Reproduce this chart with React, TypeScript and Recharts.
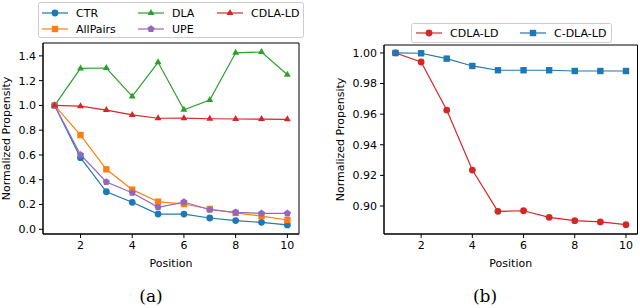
import { Line, LineChart, ReferenceArea, XAxis, YAxis } from "recharts"

const positions = [1, 2, 3, 4, 5, 6, 7, 8, 9, 10]
const ctr = [1.0, 0.578, 0.303, 0.218, 0.123, 0.123, 0.091, 0.07, 0.056, 0.035]
const allPairs = [1.0, 0.761, 0.484, 0.32, 0.223, 0.204, 0.164, 0.132, 0.107, 0.075]
const dla = [1.0, 1.299, 1.302, 1.073, 1.348, 0.965, 1.044, 1.425, 1.431, 1.248]
const upe = [1.0, 0.602, 0.382, 0.295, 0.178, 0.22, 0.158, 0.137, 0.129, 0.129]
const cdlaLd = [1.0, 0.9941, 0.9627, 0.9235, 0.8965, 0.8969, 0.8926, 0.8904, 0.8896, 0.8878]
const cDlaLd = [1.0, 0.9998, 0.9963, 0.9915, 0.9887, 0.9887, 0.9887, 0.9882, 0.9882, 0.9882]

const xTicks = [2, 4, 6, 8, 10]
const leftTicks = [0, 0.2, 0.4, 0.6, 0.8, 1.0, 1.2, 1.4]
const rightTicks = [0.9, 0.92, 0.94, 0.96, 0.98, 1.0]

const xDomain = [0.55, 10.45]
const leftDomain = [-0.038, 1.504]
const rightDomain = [0.8817, 1.0052]

const leftData = positions.map((p, i) => ({ p, ctr: ctr[i], allPairs: allPairs[i], dla: dla[i], upe: upe[i], cdlaLd: cdlaLd[i] }))
const rightData = positions.map((p, i) => ({ p, cdlaLd: cdlaLd[i], cDlaLd: cDlaLd[i] }))

const FONT = "'DejaVu Sans', sans-serif"
const C = { blue: "#1f77b4", orange: "#ff7f0e", green: "#2ca02c", red: "#d62728", purple: "#9467bd" }

type Shape = "circle" | "square" | "tri" | "pent"

function Marker({ shape, color, cx, cy }: { shape: Shape; color: string; cx: number; cy: number }) {
    if (shape === "circle") return <circle cx={cx} cy={cy} r={3.4} fill={color} />
    if (shape === "square") return <rect x={cx - 3.2} y={cy - 3.2} width={6.4} height={6.4} fill={color} />
    if (shape === "tri") {
        const r = 4
        return <polygon points={`${cx},${cy - r} ${cx + r * 0.87},${cy + r * 0.5} ${cx - r * 0.87},${cy + r * 0.5}`} fill={color} />
    }
    const pts = [0, 1, 2, 3, 4].map((k) => {
        const a = -Math.PI / 2 + (k * 2 * Math.PI) / 5
        return `${cx + 3.8 * Math.cos(a)},${cy + 3.8 * Math.sin(a)}`
    })
    return <polygon points={pts.join(" ")} fill={color} />
}

const dot = (shape: Shape, color: string) => (props: any) =>
    <Marker key={props.index} shape={shape} color={color} cx={props.cx} cy={props.cy} />

type Entry = { name: string; color: string; shape: Shape; x: number; y: number }

function LegendBox({ left, top, w, h, items }: { left: number; top: number; w: number; h: number; items: Entry[] }) {
    return (
        <svg width={w} height={h} style={{ position: "absolute", left, top, display: "block" }}>
            <rect x={0.5} y={0.5} width={w - 1} height={h - 1} rx={2} fill="#fff" stroke="#cccccc" />
            {items.map((it) => (
                <g key={it.name}>
                    <line x1={it.x} x2={it.x + 26} y1={it.y} y2={it.y} stroke={it.color} strokeWidth={1.2} />
                    <Marker shape={it.shape} color={it.color} cx={it.x + 13} cy={it.y} />
                    <text x={it.x + 34} y={it.y} dy="0.35em" fontSize={11} fontFamily={FONT} fill="#000">{it.name}</text>
                </g>
            ))}
        </svg>
    )
}

const leftLegend: Entry[] = [
    { name: "CTR", color: C.blue, shape: "circle", x: 4, y: 11 },
    { name: "AllPairs", color: C.orange, shape: "square", x: 4, y: 27 },
    { name: "DLA", color: C.green, shape: "tri", x: 100, y: 11 },
    { name: "UPE", color: C.purple, shape: "pent", x: 100, y: 27 },
    { name: "CDLA-LD", color: C.red, shape: "tri", x: 179, y: 11 },
]
const rightLegend: Entry[] = [
    { name: "CDLA-LD", color: C.red, shape: "circle", x: 5, y: 10 },
    { name: "C-DLA-LD", color: C.blue, shape: "square", x: 109, y: 10 },
]

const tickStyle = { fontSize: 11, fontFamily: FONT, fill: "#000" }
const labelStyle = { fontSize: 11, fontFamily: FONT, fill: "#000" }

export default function App() {
    return (
        <div style={{ position: "absolute", left: 0, top: 0, width: 640, height: 308, background: "#fff" }}>
            <div style={{ position: "absolute", left: 0, top: 0 }}>
                <LineChart width={320} height={308} data={leftData} margin={{ top: 43, right: 21, bottom: 44, left: 0 }}>
                    <XAxis dataKey="p" type="number" domain={xDomain} ticks={xTicks} allowDataOverflow
                        tick={tickStyle} tickSize={4} tickMargin={3} stroke="#000" height={30}
                        label={{ value: "Position", position: "bottom", offset: -5, style: labelStyle }} />
                    <YAxis type="number" domain={leftDomain} ticks={leftTicks} allowDataOverflow width={43}
                        tick={tickStyle} tickSize={4} tickMargin={3} stroke="#000" tickFormatter={(v) => v.toFixed(1)}
                        label={{ value: "Normalized Propensity", angle: -90, position: "insideLeft", offset: 6, style: { ...labelStyle, textAnchor: "middle" } }} />
                    <ReferenceArea x1={xDomain[0]} x2={xDomain[1]} y1={leftDomain[0]} y2={leftDomain[1]} fill="none" stroke="#000" strokeWidth={1} />
                    <Line dataKey="ctr" stroke={C.blue} strokeWidth={1.2} dot={dot("circle", C.blue)} isAnimationActive={false} />
                    <Line dataKey="allPairs" stroke={C.orange} strokeWidth={1.2} dot={dot("square", C.orange)} isAnimationActive={false} />
                    <Line dataKey="dla" stroke={C.green} strokeWidth={1.2} dot={dot("tri", C.green)} isAnimationActive={false} />
                    <Line dataKey="upe" stroke={C.purple} strokeWidth={1.2} dot={dot("pent", C.purple)} isAnimationActive={false} />
                    <Line dataKey="cdlaLd" stroke={C.red} strokeWidth={1.2} dot={dot("tri", C.red)} isAnimationActive={false} />
                </LineChart>
                <LegendBox left={38} top={2} w={266} h={36} items={leftLegend} />
            </div>
            <div style={{ position: "absolute", left: 320, top: 0 }}>
                <LineChart width={320} height={308} data={rightData} margin={{ top: 45, right: 2.5, bottom: 44, left: 0 }}>
                    <XAxis dataKey="p" type="number" domain={xDomain} ticks={xTicks} allowDataOverflow
                        tick={tickStyle} tickSize={4} tickMargin={3} stroke="#000" height={30}
                        label={{ value: "Position", position: "bottom", offset: -5, style: labelStyle }} />
                    <YAxis type="number" domain={rightDomain} ticks={rightTicks} allowDataOverflow width={64}
                        tick={tickStyle} tickSize={4} tickMargin={3} stroke="#000" tickFormatter={(v) => v.toFixed(2)}
                        label={{ value: "Normalized Propensity", angle: -90, position: "insideLeft", offset: 20, style: { ...labelStyle, textAnchor: "middle" } }} />
                    <ReferenceArea x1={xDomain[0]} x2={xDomain[1]} y1={rightDomain[0]} y2={rightDomain[1]} fill="none" stroke="#000" strokeWidth={1} />
                    <Line dataKey="cdlaLd" stroke={C.red} strokeWidth={1.2} dot={dot("circle", C.red)} isAnimationActive={false} />
                    <Line dataKey="cDlaLd" stroke={C.blue} strokeWidth={1.2} dot={dot("square", C.blue)} isAnimationActive={false} />
                </LineChart>
                <LegendBox left={91} top={23} w={201} h={20} items={rightLegend} />
            </div>
            <div style={{ position: "absolute", left: 0, top: 286, width: 302, textAlign: "center", fontFamily: "'DejaVu Serif', serif", fontSize: 17 }}>(a)</div>
            <div style={{ position: "absolute", left: 320, top: 286, width: 330, textAlign: "center", fontFamily: "'DejaVu Serif', serif", fontSize: 17 }}>(b)</div>
        </div>
    )
}
